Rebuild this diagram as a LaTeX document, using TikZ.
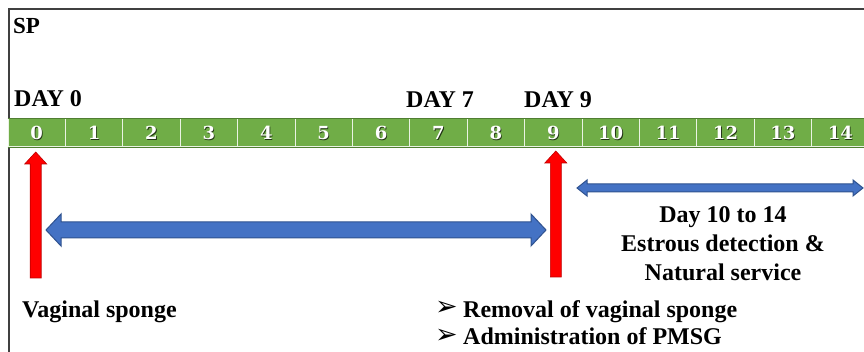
\documentclass[tikz,border=0pt]{standalone}
\usepackage{fontspec}
\setmainfont{Liberation Serif}[BoldFont={Liberation Serif Bold}]
\newfontfamily\tnr{Liberation Serif}[BoldFont={Liberation Serif Bold}]
\newfontfamily\numfont{DejaVu Serif}[BoldFont={DejaVu Serif Bold}]
\newfontfamily\symfont{DejaVu Sans}
\usetikzlibrary{calc}
\definecolor{cellgreen}{HTML}{70AD47}
\definecolor{darkgreen}{HTML}{507E32}
\definecolor{arrowblue}{HTML}{4472C4}
\definecolor{edgeblue}{HTML}{2F528F}
\definecolor{arrowred}{HTML}{FF0000}
\definecolor{edgered}{HTML}{C00000}
\definecolor{framegray}{HTML}{404040}
\tikzset{
  cell/.style={minimum width=57.4pt, minimum height=28pt, inner sep=0pt,
    fill=cellgreen, draw=white!85!cellgreen, line width=1pt},
  cellnum/.style={text=white, font=\numfont\bfseries\fontsize{18}{18}\selectfont, inner sep=0pt},
  cellshadow/.style={text=black!70!cellgreen, font=\numfont\bfseries\fontsize{18}{18}\selectfont, inner sep=0pt},
  lbl/.style={font=\tnr\bfseries\fontsize{24}{29}\selectfont, inner sep=0pt},
  bullet/.style={anchor=base east, inner sep=0pt, text height=14pt, text depth=0pt,
    font=\symfont\fontsize{27}{27}\selectfont},
  redarrow/.style={fill=arrowred, draw=edgered, line width=0.6pt, line join=miter},
  bluearrow/.style={fill=arrowblue, draw=edgeblue, line width=1pt, line join=miter},
  redup/.pic={
    \path[redarrow] (-5.5,126) -- (-5.5,12) -- (-11,12) -- (0,0) -- (11,12)
      -- (5.5,12) -- (5.5,126) -- cycle;
  }
}
\begin{document}
\begin{tikzpicture}[x=1pt,y=-1pt]
\useasboundingbox (0,0) rectangle (864,352);
\clip (0,0) rectangle (864,352);
% frame
\draw[framegray, line width=1.6pt] (9,360) -- (9,9) -- (870,9);
% timeline cells
\foreach \k in {0,...,14} {
  \node[cell] (c\k) at ({8+57.4*\k+28.7},133) {};
  \node[cellshadow] at ($(c\k.center)+(0.8,0.8)$) {\k};
  \node[cellnum] (n\k) at (c\k.center) {\k};
}
\draw[darkgreen, line width=0.8pt] (c0.north west) -- (c14.north east);
\draw[darkgreen, line width=0.8pt] (c0.south west) -- (c14.south east);
% labels above
\node[lbl, anchor=base west, font=\tnr\bfseries\fontsize{23}{27}\selectfont] (sp) at (13,34) {SP};
\node[lbl, anchor=base west] (d0) at (14,107) {DAY 0};
\node[lbl, anchor=base west] (d7) at (406,107.5) {DAY 7};
\node[lbl, anchor=base west] (d9) at (524,107.5) {DAY 9};
% red arrows
\pic at ($(c0.center |- 0,152)+(-1,0)$) {redup};
\pic at ($(c9.center |- 0,151)+(2.5,0)$) {redup};
% blue arrows
\coordinate (b1) at (46,230);
\coordinate (b2) at (546,230);
\path[bluearrow] (b1) -- ++(15,-16) -- ++(0,8) -- ($(b2)+(-15,-8)$) -- ++(0,-8)
  -- (b2) -- ++(-15,16) -- ++(0,-8) -- ($(b1)+(15,8)$) -- ++(0,8) -- cycle;
\coordinate (u1) at (577,188);
\coordinate (u2) at (863,188);
\path[bluearrow] (u1) -- ++(10,-8) -- ++(0,4) -- ($(u2)+(-10,-4)$) -- ++(0,-4)
  -- (u2) -- ++(-10,8) -- ++(0,-4) -- ($(u1)+(10,4)$) -- ++(0,4) -- cycle;
% texts below
\node[lbl, anchor=base] (t1) at (723,222.5) {Day 10 to 14};
\node[lbl, anchor=base] (t2) at (723,251.5) {Estrous detection \&};
\node[lbl, anchor=base] (t3) at (723,281) {Natural service};
\node[lbl, anchor=base west] (vs) at (22,318) {Vaginal sponge};
\node[lbl, anchor=base west] (r1) at (463,317) {Removal of vaginal sponge};
\node[lbl, anchor=base west] (r2) at (463,344) {Administration of PMSG};
\node[bullet] (m1) at ($(r1.base west)+(-5,-1)$) {➢};
\node[bullet] (m2) at ($(r2.base west)+(-5,-1)$) {➢};
\end{tikzpicture}
\end{document}
